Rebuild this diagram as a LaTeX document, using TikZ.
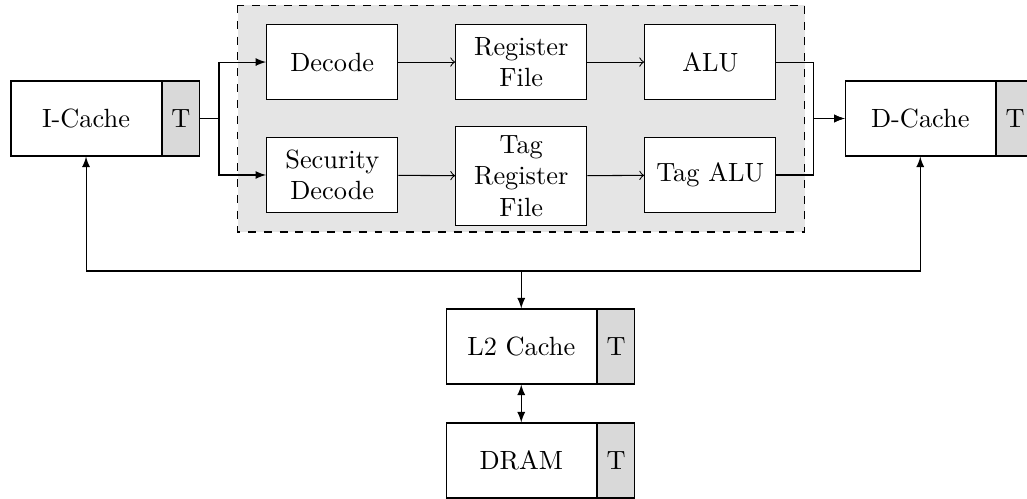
\documentclass[tikz,border=0pt]{standalone}
\usetikzlibrary{positioning,arrows}
\tikzset{
	stage/.style={draw,fill=white,minimum width=1.75cm,minimum height=1cm,text width=1.5cm,align=center},
	cachebox/.style={draw,fill=white,minimum width=2cm,minimum height=1cm},
	tagbox/.style={draw,fill=gray!30,minimum width=0.5cm,minimum height=1cm},
}
\begin{document}
\begin{tikzpicture}
		\useasboundingbox (0,0) rectangle (13.693,-6.653);
		\clip (0,0) rectangle (13.693,-6.653);
		\draw [dashed,fill=gray!20] (3.17,-0.067) rectangle (10.73,-3.093);
		\node[cachebox] (icache) at (1.147,-1.58) {I-Cache};
		\node[tagbox,right=0pt of icache] (icacheT) {T};
		\node[stage] (decode) at (4.43,-0.827) {Decode};
		\node[stage] (secdecode) at (4.43,-2.333) {Security Decode};
		\node[stage] (regfile) at (6.95,-0.827) {Register File};
		\node[stage] (tagregfile) at (6.95,-2.347) {Tag Register File};
		\node[stage] (alu) at (9.47,-0.827) {ALU};
		\node[stage] (tagalu) at (9.47,-2.333) {Tag ALU};
		\node[cachebox] (dcache) at (12.27,-1.58) {D-Cache};
		\node[tagbox,right=0pt of dcache] (dcacheT) {T};
		\node[cachebox] (l2) at (6.95,-4.62) {L2 Cache};
		\node[tagbox,right=0pt of l2] (l2T) {T};
		\node[cachebox] (dram) at (6.95,-6.14) {DRAM};
		\node[tagbox,right=0pt of dram] (dramT) {T};
		\coordinate (split) at (2.92,-1.58);
		\coordinate (join) at (10.85,-1.58);
		\coordinate (bus) at (6.95,-3.613);
		\draw[-latex] (icacheT) -- (split) |- (decode);
		\draw[-latex] (icacheT) -- (split) |- (secdecode);
		\draw[->] (decode) -- (regfile);
		\draw[->] (regfile) -- (alu);
		\draw[->] (secdecode) -- (tagregfile);
		\draw[->] (tagregfile) -- (tagalu);
		\draw[-latex] (alu) -| (join) -- (dcache);
		\draw[-latex] (tagalu) -| (join) -- (dcache);
		\draw[latex-latex] (icache) |- (bus) -| (dcache);
		\draw[-latex] (bus) -- (l2);
		\draw[latex-latex] (l2) -- (dram);
	\end{tikzpicture}
\end{document}
